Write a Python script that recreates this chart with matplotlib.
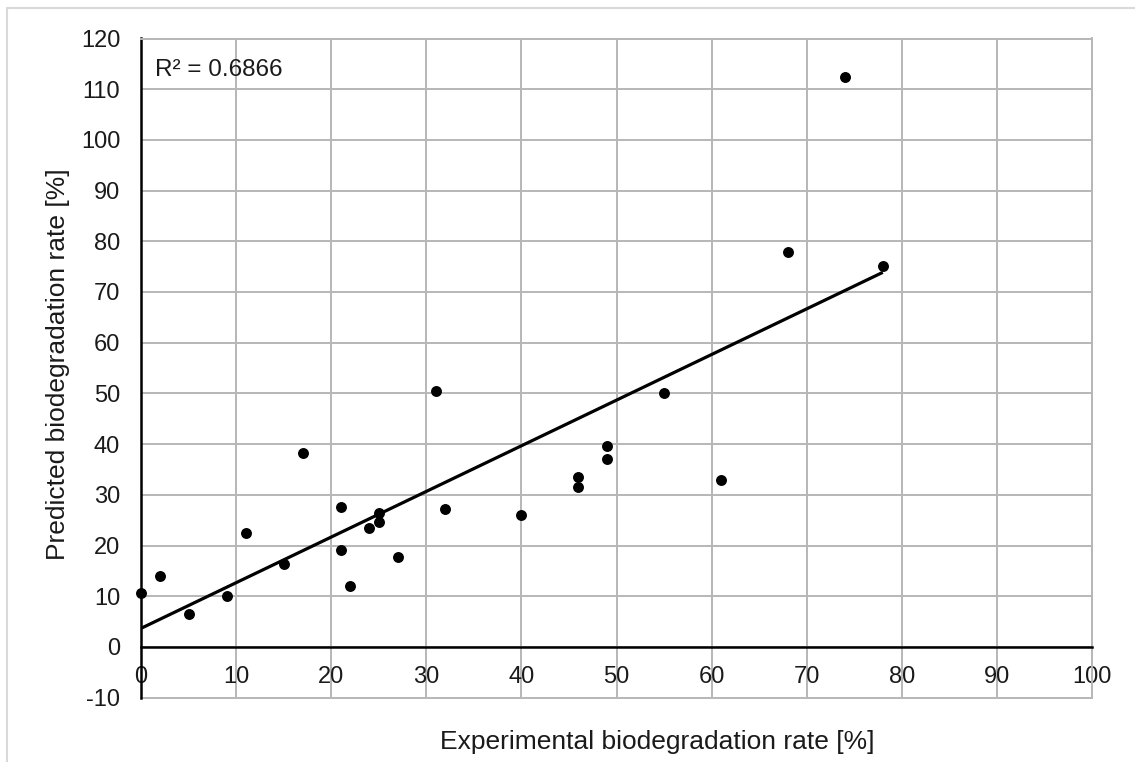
import numpy as np
import matplotlib
matplotlib.use("Agg")
import matplotlib.pyplot as plt
from matplotlib.lines import Line2D

plt.rcParams['font.family'] = ['Liberation Sans', 'DejaVu Sans']
plt.rcParams['axes.unicode_minus'] = False

# Experimental vs. predicted biodegradation rates [%]
experimental = [0, 2, 5, 9, 11, 15, 17, 21, 21, 22, 24, 25, 25, 27, 31, 32,
                40, 46, 46, 49, 49, 55, 61, 68, 74, 78]
predicted = [10.6, 13.9, 6.4, 10.1, 22.4, 16.4, 38.3, 27.6, 19.1, 12.1, 23.4,
             26.5, 24.7, 17.7, 50.4, 27.2, 26.0, 33.6, 31.5, 39.6, 37.1, 50.0,
             33.0, 77.8, 112.4, 75.2]
r2_label = "R² = 0.6866"

x_ticks = list(range(0, 101, 10))
y_ticks = list(range(-10, 121, 10))

fig = plt.figure(figsize=(11.35, 7.62), dpi=100)
ax = fig.add_axes([141 / 1135, 1 - 697.6 / 762, (1092 - 141) / 1135, (697.6 - 38.5) / 762])

grid_color = '#b7b7b7'
ax.set_xlim(0, 100)
ax.set_ylim(-10, 120)
ax.set_xticks(x_ticks)
ax.set_yticks(y_ticks)
ax.grid(True, color=grid_color, linewidth=1.4, zorder=0)
ax.set_axisbelow(True)

# x axis crosses at y = 0, with its labels hanging below it
ax.spines['bottom'].set_position(('data', 0))
ax.spines['bottom'].set_color('black')
ax.spines['bottom'].set_linewidth(1.8)
ax.spines['left'].set_color('black')
ax.spines['left'].set_linewidth(1.8)
for s in ('top', 'right'):
    ax.spines[s].set_color(grid_color)
    ax.spines[s].set_linewidth(1.4)
ax.add_line(Line2D([0, 100], [-10, -10], color=grid_color, linewidth=1.4,
                   clip_on=False, zorder=0.5))

ax.tick_params(axis='both', length=0, labelsize=17, colors='black')
ax.tick_params(axis='x', pad=13.5)
ax.tick_params(axis='y', pad=15)
for lbl in ax.get_xticklabels() + ax.get_yticklabels():
    lbl.set_color('#1a1a1a')

ax.scatter(experimental, predicted, s=62, color='black', zorder=4,
           clip_on=False, linewidths=0)

# Linear trendline over the measured range
xs = np.array(experimental, dtype=float)
ys = np.array(predicted, dtype=float)
slope, intercept = np.polyfit(xs, ys, 1)
xl = np.array([xs.min(), xs.max()])
ax.plot(xl, slope * xl + intercept, color='black', linewidth=2.3, zorder=3,
        solid_capstyle='butt')

ax.text(1.5, 113.8, r2_label, fontsize=17.5, va='center', ha='left', color='#1a1a1a')

fig.text(657 / 1135, 1 - 742 / 762, "Experimental biodegradation rate [%]",
         fontsize=19, ha='center', va='center', color='#1a1a1a')
fig.text(58 / 1135, 1 - 364 / 762, "Predicted biodegradation rate [%]",
         fontsize=19, ha='center', va='center', rotation=90, color='#1a1a1a')

# Light outer frame of the chart area
fig.add_artist(Line2D([7 / 1135, 7 / 1135, 1.0], [0.0, 1 - 8 / 762, 1 - 8 / 762],
                      transform=fig.transFigure, color='#d9d9d9', linewidth=1.5))

fig.savefig('out.png', dpi=100)
